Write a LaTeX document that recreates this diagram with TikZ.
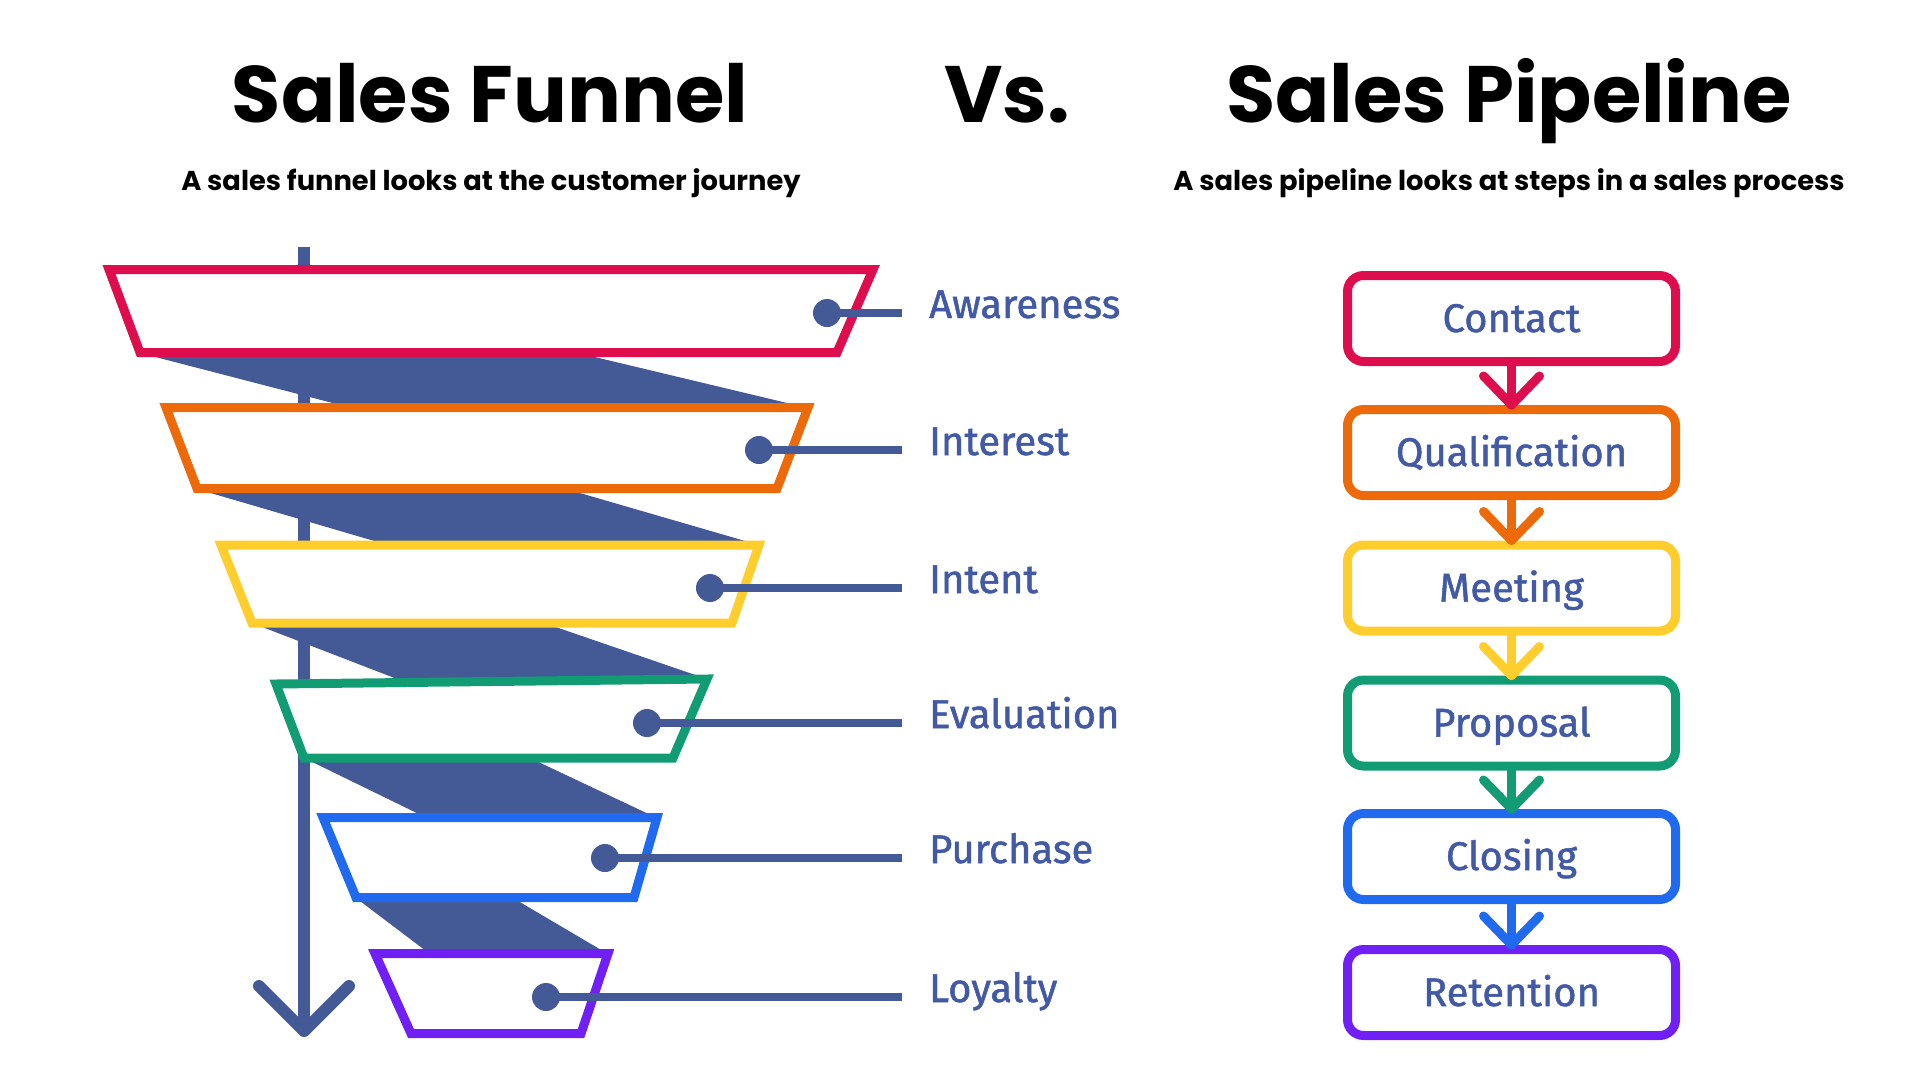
\documentclass[tikz,border=0pt]{standalone}
\usepackage{fontspec}
\setmainfont{Fira Sans}
\newfontfamily\labf{Fira Sans}[FakeBold=1.2]
\newfontfamily\popf{Poppins}
\definecolor{navy}{RGB}{68,90,150}
\definecolor{labcol}{RGB}{66,90,165}
\definecolor{cred}{RGB}{222,14,78}
\definecolor{corange}{RGB}{236,106,10}
\definecolor{cyellow}{RGB}{255,206,44}
\definecolor{cgreen}{RGB}{18,156,116}
\definecolor{cblue}{RGB}{32,106,240}
\definecolor{cpurple}{RGB}{112,32,245}
\tikzset{
  titlef/.style={font=\popf\bfseries\fontsize{80}{86}\selectfont, inner sep=0pt, text=black},
  subf/.style={font=\popf\bfseries\fontsize{27.3}{32}\selectfont, inner sep=0pt, text=black},
  band/.style={fill=navy},
  trap/.style={draw=#1, line width=9pt, fill=white, line join=miter},
  dotc/.style={fill=navy},
  conn/.style={draw=navy, line width=8pt},
  lab/.style={font=\labf\fontsize{40}{44}\selectfont, text=labcol, inner sep=0pt, anchor=base west},
  pbox/.style={draw=#1, line width=9pt, rounded corners=16pt, fill=white,
    minimum width=328pt, minimum height=86pt, inner sep=0pt,
    text height=27pt, text depth=0pt, text=labcol, font=\labf\fontsize{40}{44}\selectfont},
  parr/.style={draw=#1, line width=9pt, line cap=round, line join=round},
}
\begin{document}
\begin{tikzpicture}[x=1pt,y=-1pt]
\useasboundingbox (0,0) rectangle (1920,1080);
\fill[white] (0,0) rectangle (1920,1080);

% titles
\node[titlef, anchor=base] (t1) at (490,122) {Sales Funnel};
\node[titlef, anchor=base] (vs) at (1007,122) {Vs.};
\node[titlef, anchor=base] (t2) at (1509,122) {Sales Pipeline};
\node[subf, anchor=base] (s1) at (491,190) {A sales funnel looks at the customer journey};
\node[subf, anchor=base] (s2) at (1509,190) {A sales pipeline looks at steps in a sales process};

% funnel arrow
\coordinate (atop) at (304,247);
\coordinate (abot) at (304,1031);
\draw[navy, line width=12pt] (atop) -- (abot);
\draw[navy, line width=12pt, line cap=round, line join=round] (259,986) -- (abot) -- (349,986);

% bands
\fill[band] (140,353) -- (578,353) -- (808,408) -- (352,408) -- cycle;
\fill[band] (197,489) -- (566,489) -- (759,545) -- (388,545) -- cycle;
\fill[band] (252,623) -- (544,623) -- (707,679) -- (410,684) -- cycle;
\fill[band] (304,758) -- (530,758) -- (657,818) -- (427,818) -- cycle;
\fill[band] (356,898) -- (513,898) -- (608,954) -- (430,954) -- cycle;

% trapezoids
\draw[trap=cred]    (109,269.5) -- (873,269.5) -- (837,352.5) -- (140,352.5) -- cycle;
\draw[trap=corange] (166,407.5) -- (808,407.5) -- (777,488.5) -- (197,488.5) -- cycle;
\draw[trap=cyellow] (221,545) -- (759,545) -- (732,623) -- (252,623) -- cycle;
\draw[trap=cgreen]  (276,684) -- (707,679) -- (673,758) -- (304,758) -- cycle;
\draw[trap=cblue]   (323,817.5) -- (657,817.5) -- (634,897.5) -- (356,897.5) -- cycle;
\draw[trap=cpurple] (375,953.5) -- (608,953.5) -- (581,1033.5) -- (411,1033.5) -- cycle;

% dots, connectors, labels
\foreach \n/\dx/\dy/\txt in {1/827/313/Awareness, 2/759/450/Interest, 3/710/588/Intent,
  4/647/723/Evaluation, 5/605/858/Purchase, 6/546/997/Loyalty}{
  \coordinate (d\n) at (\dx,\dy);
  \coordinate (e\n) at (902,\dy);
  \draw[conn] (d\n) -- (e\n);
  \fill[dotc] (d\n) circle (14pt);
  \node[lab] (l\n) at (929,\dy+5) {\txt};
}

% pipeline
\node[pbox=cred]    (p1) at (1511.5,318.5) {Contact};
\node[pbox=corange] (p2) at (1511.5,452.5) {Qualification};
\node[pbox=cyellow] (p3) at (1511.5,588) {Meeting};
\node[pbox=cgreen]  (p4) at (1511.5,723) {Proposal};
\node[pbox=cblue]   (p5) at (1511.5,856.5) {Closing};
\node[pbox=cpurple] (p6) at (1511.5,992.5) {Retention};

\foreach \a/\b/\c in {p1/p2/cred, p2/p3/corange, p3/p4/cyellow, p4/p5/cgreen, p5/p6/cblue}{
  \draw[parr=\c] (\a.south) -- (\b.north);
  \draw[parr=\c] ([xshift=-28pt,yshift=29pt]\b.north) -- (\b.north) -- ([xshift=28pt,yshift=29pt]\b.north);
}
\end{tikzpicture}
\end{document}
